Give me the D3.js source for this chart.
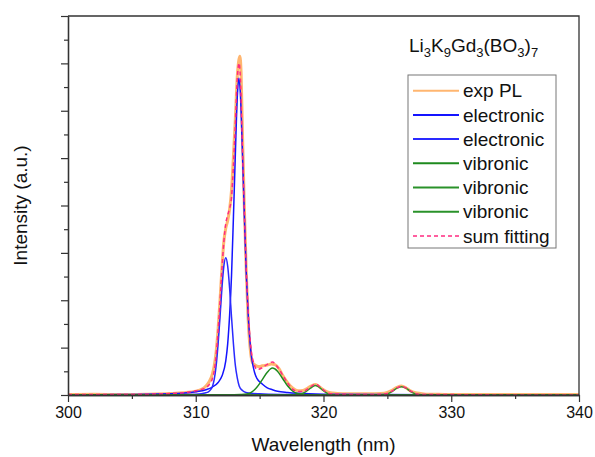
<!DOCTYPE html>
<html>
<head>
<meta charset="utf-8">
<script src="https://cdn.jsdelivr.net/npm/d3@7"></script>
<style>
  body { margin: 0; background: #fff; }
  svg { display: block; font-family: "Liberation Sans", Arial, sans-serif; }
</style>
</head>
<body>
<svg id="chart" width="595" height="457"></svg>
<script>
// Values: [wavelength (nm), intensity (a.u.)]
const expPL = [
  [300, .001], [302, .002], [304, .001], [306, .002], [308, .004], [309, .006], [310, .01],
  [310.5, .016], [310.8, .024], [311.05, .035], [311.3, .055], [311.45, .078], [311.6, .115],
  [311.75, .175], [311.9, .25], [312.05, .335], [312.2, .405], [312.35, .44], [312.5, .46],
  [312.65, .49], [312.8, .54], [312.95, .63], [313.1, .73], [313.25, .84], [313.38, .885],
  [313.45, .894], [313.55, .85], [313.65, .7], [313.8, .5], [313.95, .33], [314.1, .2],
  [314.3, .11], [314.45, .085], [314.6, .08], [314.8, .076], [315, .075], [315.2, .077],
  [315.6, .079], [315.9, .082], [316.2, .08], [316.5, .07], [316.8, .052], [317.2, .032],
  [317.6, .018], [318, .011], [318.4, .012], [318.8, .019], [319.1, .025], [319.35, .028],
  [319.6, .024], [319.9, .016], [320.3, .008], [320.7, .005], [321.5, .003], [322.5, .003],
  [323.5, .003], [324.5, .004], [325, .007], [325.4, .013], [325.75, .02], [326.1, .024],
  [326.45, .019], [326.8, .011], [327.2, .006], [327.6, .004], [328.2, .002], [329, .002],
  [330, .001], [335, .001], [340, .001],
];

const electronic1 = [
  [300, .0007], [304, .0011], [308, .0032], [310, .0085], [310.8, .014], [311.3, .021],
  [311.75, .033], [312.05, .05], [312.35, .09], [312.5, .135], [312.65, .21], [312.8, .315],
  [312.95, .47], [313.1, .635], [313.25, .785], [313.38, .836], [313.5, .79], [313.65, .645],
  [313.8, .48], [313.95, .325], [314.1, .215], [314.3, .12], [314.6, .06], [314.8, .043],
  [315.2, .029], [315.6, .019], [316, .014], [316.4, .01], [317.2, .0067], [318, .0046],
  [320, .0022], [324, .001], [330, .0006], [340, .0003],
];

const electronic2 = [
  [300, 0], [309, .001], [310, .002], [310.8, .006], [311.05, .01], [311.3, .022],
  [311.45, .042], [311.6, .078], [311.75, .135], [311.9, .206], [312.05, .282], [312.2, .34],
  [312.35, .362], [312.5, .34], [312.65, .282], [312.8, .206], [312.95, .135], [313.1, .078],
  [313.25, .045], [313.4, .024], [313.65, .012], [314, .006], [315, .003], [317, .001],
  [320, 0], [340, 0],
];

const vibronic1 = [
  [300, 0], [312.5, 0], [313.5, .001], [314, .0025], [314.4, .0085], [314.8, .021],
  [315.2, .04], [315.6, .06], [316, .071], [316.4, .0628], [316.8, .0435], [317.2, .0235],
  [317.6, .0099], [318, .0033], [318.5, .0006], [319.5, 0], [340, 0],
];

const vibronic2 = [
  [300, 0], [317.5, 0], [318, .001], [318.4, .0045], [318.8, .0135], [319.1, .021],
  [319.35, .025], [319.6, .022], [319.9, .014], [320.3, .0044], [320.7, .0008], [321.5, 0],
  [340, 0],
];

const vibronic3 = [
  [300, 0], [324, 0], [324.5, .0006], [325, .003], [325.4, .0099], [325.75, .018],
  [326.1, .022], [326.45, .018], [326.8, .0099], [327.2, .003], [327.7, .0006], [328.2, 0],
  [340, 0],
];

const sumFitting = [
  [300, .001], [304, .001], [306, .002], [308, .004], [309, .006], [310, .011], [310.5, .015],
  [310.8, .02], [311.05, .027], [311.3, .043], [311.45, .065], [311.6, .106], [311.75, .168],
  [311.9, .245], [312.05, .332], [312.2, .404], [312.35, .452], [312.5, .475], [312.65, .492],
  [312.8, .521], [312.95, .605], [313.1, .713], [313.25, .835], [313.4, .876], [313.5, .83],
  [313.65, .657], [313.8, .49], [313.95, .333], [314.1, .224], [314.3, .131], [314.6, .078],
  [314.8, .067], [315.2, .072], [315.6, .081], [316, .087], [316.4, .074], [316.8, .053],
  [317.2, .031], [317.6, .015], [318, .009], [318.4, .009], [318.8, .017], [319.1, .024],
  [319.35, .028], [319.6, .025], [319.9, .016], [320.3, .006], [320.7, .003], [321.5, .002],
  [323.5, .001], [324.5, .002], [325, .004], [325.4, .011], [325.75, .019], [326.1, .023],
  [326.45, .019], [326.8, .011], [327.2, .004], [327.6, .001], [330, .001], [335, 0], [340, 0],
];

const xTicks = [300, 310, 320, 330, 340];
const xMinorTicks = [305, 315, 325, 335];
const yTicks = [0, .125, .25, .375, .5, .625, .75, .875, 1];
const yMinorTicks = [.0625, .1875, .3125, .4375, .5625, .6875, .8125, .9375];

const formula = [['Li', 0], ['3', 1], ['K', 0], ['9', 1], ['Gd', 0], ['3', 1], ['(BO', 0], ['3', 1], [')', 0], ['7', 1]];

const series = [
  { name: 'exp PL', data: expPL, color: '#ffb670', width: 3, dash: null },
  { name: 'electronic', data: electronic1, color: '#1414ff', width: 1.5, dash: null },
  { name: 'electronic', data: electronic2, color: '#2a2aff', width: 1.5, dash: null },
  { name: 'vibronic', data: vibronic1, color: '#1e8a1e', width: 1.5, dash: null },
  { name: 'vibronic', data: vibronic2, color: '#2a922a', width: 1.5, dash: null },
  { name: 'vibronic', data: vibronic3, color: '#2a922a', width: 1.5, dash: null },
  { name: 'sum fitting', data: sumFitting, color: '#ff2b80', width: 1.5, dash: '4,3' },
];

const svg = d3.select('#chart');
const plot = { left: 68, right: 579, top: 16, bottom: 395 };
const axisColor = '#333';

const x = d3.scaleLinear().domain([300, 340]).range([plot.left, plot.right]);
const y = d3.scaleLinear().domain([0, 1]).range([plot.bottom, plot.top]);

const line = d3.line()
  .x(d => x(d[0]))
  .y(d => y(d[1]))
  .curve(d3.curveMonotoneX);

// Curves
svg.append('g')
  .selectAll('path')
  .data(series)
  .join('path')
  .attr('d', d => line(d.data))
  .attr('fill', 'none')
  .attr('stroke', d => d.color)
  .attr('stroke-width', d => d.width)
  .attr('stroke-dasharray', d => d.dash)
  .attr('stroke-linejoin', 'round');

// Frame (top + right)
svg.append('path')
  .attr('d', `M${plot.left},${plot.top}H${plot.right}V${plot.bottom}`)
  .attr('fill', 'none')
  .attr('stroke', axisColor)
  .attr('stroke-width', 1.3);

function styleAxis(g) {
  g.select('.domain').attr('stroke', axisColor).attr('stroke-width', 1.3);
  g.selectAll('.tick line').attr('stroke', axisColor).attr('stroke-width', 1.2);
}

// Bottom axis
svg.append('g')
  .attr('transform', `translate(0,${plot.bottom})`)
  .call(d3.axisBottom(x).tickValues(xMinorTicks).tickSize(4).tickSizeOuter(0).tickFormat(''))
  .call(styleAxis);
svg.append('g')
  .attr('transform', `translate(0,${plot.bottom})`)
  .call(d3.axisBottom(x).tickValues(xTicks).tickSize(7).tickSizeOuter(0).tickPadding(5))
  .call(styleAxis)
  .call(g => g.selectAll('text')
    .attr('fill', '#111')
    .style('font-size', '16px')
    .style('font-family', '"Liberation Sans", Arial, sans-serif'));

// Left axis
svg.append('g')
  .attr('transform', `translate(${plot.left},0)`)
  .call(d3.axisLeft(y).tickValues(yMinorTicks).tickSize(4).tickSizeOuter(0).tickFormat(''))
  .call(styleAxis);
svg.append('g')
  .attr('transform', `translate(${plot.left},0)`)
  .call(d3.axisLeft(y).tickValues(yTicks).tickSize(7).tickSizeOuter(0).tickFormat(''))
  .call(styleAxis);

// Axis titles
svg.append('text')
  .attr('x', (plot.left + plot.right) / 2)
  .attr('y', 451)
  .attr('text-anchor', 'middle')
  .attr('font-size', 19)
  .attr('fill', '#111')
  .text('Wavelength (nm)');

svg.append('text')
  .attr('transform', `translate(27,${(plot.top + plot.bottom) / 2}) rotate(-90)`)
  .attr('text-anchor', 'middle')
  .attr('font-size', 19)
  .attr('fill', '#111')
  .text('Intensity (a.u.)');

// Compound label
const title = svg.append('text')
  .attr('x', 409)
  .attr('y', 52)
  .attr('font-size', 19)
  .attr('fill', '#111');
let shift = 0;
formula.forEach(([s, sub]) => {
  const dy = sub ? 5 - shift : -shift;
  shift = sub ? 5 : 0;
  title.append('tspan')
    .attr('dy', dy)
    .attr('font-size', sub ? 13 : 19)
    .text(s);
});

// Legend
const legend = svg.append('g');
legend.append('rect')
  .attr('x', 408).attr('y', 75)
  .attr('width', 148).attr('height', 173)
  .attr('fill', '#fff')
  .attr('stroke', '#777')
  .attr('stroke-width', 1);

const rows = legend.selectAll('g.row')
  .data(series)
  .join('g')
  .attr('class', 'row')
  .attr('transform', (d, i) => `translate(0,${90.7 + i * 24.2})`);

rows.append('line')
  .attr('x1', 413).attr('x2', 459)
  .attr('stroke', d => d.color)
  .attr('stroke-width', d => d.dash ? 1.5 : 2)
  .attr('stroke-dasharray', d => d.dash);

rows.append('text')
  .attr('x', 463)
  .attr('dy', '0.35em')
  .attr('font-size', 19)
  .attr('fill', '#111')
  .text(d => d.name);
</script>
</body>
</html>
